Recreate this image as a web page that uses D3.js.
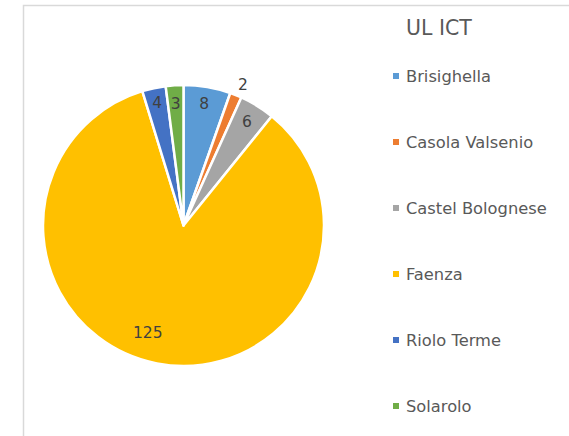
<!DOCTYPE html>
<html><head><meta charset="utf-8">
<script src="https://cdn.jsdelivr.net/npm/d3@7"></script>
<style>html,body{margin:0;padding:0;background:#fff;}svg{display:block;}</style>
</head><body>
<svg id="chart" width="569" height="436"></svg>
<script>
const title = "UL ICT";
const categories = ["Brisighella","Casola Valsenio","Castel Bolognese","Faenza","Riolo Terme","Solarolo"];
const values = [8, 2, 6, 125, 4, 3];
const colors = ["#5B9BD5","#ED7D31","#A5A5A5","#FFC000","#4472C4","#70AD47"];

const svg = d3.select("#chart");
// outer border
svg.append("rect").attr("x",23.5).attr("y",5.5).attr("width",700).attr("height",600)
  .attr("fill","none").attr("stroke","#D9D9D9").attr("stroke-width",1.5);

const cx = 183.5, cy = 225.5, R = 140.5;
const pie = d3.pie().sort(null).value(d=>d)(values);
const arc = d3.arc().innerRadius(0).outerRadius(R);
const g = svg.append("g").attr("transform",`translate(${cx},${cy})`);
g.selectAll("path").data(pie).join("path")
  .attr("d",arc).attr("fill",(d,i)=>colors[i])
  .attr("stroke","#fff").attr("stroke-width",2.5).attr("stroke-linejoin","round");

// label placement (radius per slice, angle shift for the big slice)
const labelR = [123, 153, 121, 113, 125, 122];
const labelShift = [0, 1, 0, 7.5, 0, 0];
g.selectAll("text.lbl").data(pie).join("text").attr("class","lbl")
  .attr("transform",(d,i)=>{
    const a = (d.startAngle+d.endAngle)/2 + labelShift[i]*Math.PI/180;
    return `translate(${Math.sin(a)*labelR[i]},${-Math.cos(a)*labelR[i]})`;
  })
  .attr("text-anchor","middle").attr("dominant-baseline","central")
  .attr("font-family","'DejaVu Sans', Verdana, sans-serif").attr("font-size",15.5)
  .attr("fill","#404040").text(d=>d.data);

// title
svg.append("text").attr("x",406).attr("y",28).attr("dominant-baseline","central")
  .attr("font-family","'DejaVu Sans', Verdana, sans-serif").attr("font-size",20.5)
  .attr("fill","#595959").text(title);

// legend
const y = d3.scalePoint().domain(categories).range([76, 406]);
const lg = svg.append("g");
const items = lg.selectAll("g").data(categories).join("g")
  .attr("transform",d=>`translate(0,${y(d)})`);
items.append("rect").attr("x",393).attr("y",-3).attr("width",6).attr("height",6)
  .attr("fill",(d,i)=>colors[i]);
items.append("text").attr("x",406).attr("y",0).attr("dominant-baseline","central")
  .attr("font-family","'DejaVu Sans', Verdana, sans-serif").attr("font-size",16.3)
  .attr("fill","#595959").text(d=>d);
</script>
</body></html>
